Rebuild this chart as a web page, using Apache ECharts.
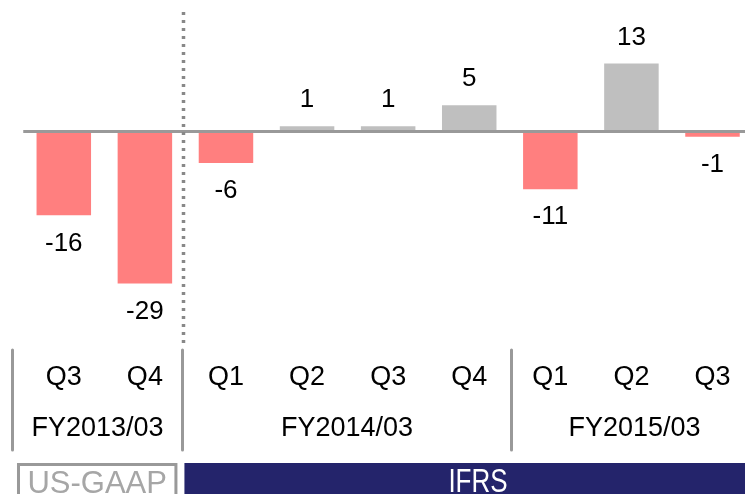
<!DOCTYPE html>
<html>
<head>
<meta charset="utf-8">
<script src="https://cdn.jsdelivr.net/npm/echarts@6/dist/echarts.min.js"></script>
<style>
  html, body { margin: 0; padding: 0; background: #fff; }
  #chart { width: 745px; height: 494px; }
</style>
</head>
<body>
<div id="chart"></div>
<script>
const categories = ['Q3', 'Q4', 'Q1', 'Q2', 'Q3', 'Q4', 'Q1', 'Q2', 'Q3'];
const values = [-16, -29, -6, 1, 1, 5, -11, 13, -1];
const fiscalYears = ['FY2013/03', 'FY2014/03', 'FY2015/03'];
const fiscalGroups = [[0, 1], [2, 5], [6, 8]];
const standards = ['US-GAAP', 'IFRS'];
const standardGroups = [[0, 1], [2, 8]];

const FONT = '"Liberation Sans", Arial, sans-serif';
const RED = '#FF7F7F';
const GRAY = '#BFBFBF';
const NAVY = '#24246B';

const chart = echarts.init(document.getElementById('chart'), null, { renderer: 'canvas' });

const barData = values.map(v => ({
  value: v,
  itemStyle: { color: v < 0 ? RED : GRAY },
  label: { position: v < 0 ? 'bottom' : 'top', distance: v < 0 ? 15 : 13 }
}));

chart.setOption({
  animation: false,
  backgroundColor: '#ffffff',
  grid: { left: 23.25, top: 26.7, width: 729.8, height: 314.4, containLabel: false, outerBoundsMode: 'none' },
  xAxis: {
    type: 'category',
    data: categories,
    axisLine: { show: false },
    axisTick: { show: false },
    splitLine: { show: false },
    axisLabel: { margin: 23, fontSize: 27, color: '#000', fontFamily: FONT }
  },
  yAxis: {
    type: 'value',
    min: -40,
    max: 20,
    show: false,
    splitLine: { show: false }
  },
  series: [{
    type: 'bar',
    data: barData,
    barWidth: 54.5,
    clip: false,
    label: { show: true, fontSize: 26, color: '#000', fontFamily: FONT, formatter: '{c}' },
    markLine: {
      silent: true,
      symbol: 'none',
      label: { show: false },
      lineStyle: { color: '#999999', width: 3, type: 'solid' },
      data: [{ yAxis: 0 }]
    }
  }]
});

function px(i) { return chart.convertToPixel({ xAxisIndex: 0 }, i); }
function boundary(i) { return (px(i) + px(i + 1)) / 2; }
function snap(x) { return Math.floor(x) + 0.5; }

const W = 745;
const graphics = [];

// Dotted divider between US-GAAP and IFRS periods
const divX = snap(boundary(1) - 1.5);
graphics.push({
  type: 'line', z: 10,
  shape: { x1: divX, y1: 12, x2: divX, y2: 344 },
  style: { stroke: '#888888', lineWidth: 3.5, lineDash: [3, 5] }
});

// Fiscal year separators
const sepXs = [snap(px(0) - 51.5), snap(boundary(1) - 2.5), snap(boundary(5) + 2)];
sepXs.forEach(x => graphics.push({
  type: 'line', z: 10,
  shape: { x1: x, y1: 350, x2: x, y2: 450 },
  style: { stroke: '#999999', lineWidth: 3, lineCap: 'round' }
}));

// Fiscal year labels
const fyBounds = [sepXs[0], sepXs[1], sepXs[2], px(8) + 45];
fiscalYears.forEach((t, k) => {
  graphics.push({
    type: 'text', z: 10,
    style: {
      text: t, x: (fyBounds[k] + fyBounds[k + 1]) / 2, y: 429,
      align: 'center', verticalAlign: 'middle',
      fontSize: 27, fontFamily: FONT, fill: '#000'
    }
  });
});

// Accounting standard boxes
const gaapL = px(standardGroups[0][0]) - 45.3;
const gaapR = boundary(standardGroups[0][1]) - 9.5;
graphics.push({
  type: 'rect', z: 10,
  shape: { x: gaapL, y: 464.5, width: gaapR - gaapL, height: 40 },
  style: { fill: '#fff', stroke: '#999999', lineWidth: 3 }
});
graphics.push({
  type: 'text', z: 11,
  style: {
    text: standards[0], x: (gaapL + gaapR) / 2, y: 484,
    align: 'center', verticalAlign: 'middle',
    fontSize: 31, fontFamily: FONT, fill: '#A6A6A6'
  }
});
const ifrsL = boundary(standardGroups[1][0] - 1) - 1;
graphics.push({
  type: 'rect', z: 10,
  shape: { x: ifrsL, y: 463, width: W + 30 - ifrsL, height: 40 },
  style: { fill: NAVY }
});
graphics.push({
  type: 'text', z: 11,
  x: 478, y: 483, scaleY: 1.3,
  style: {
    text: standards[1], x: 0, y: 0,
    align: 'center', verticalAlign: 'middle',
    fontSize: 26, fontFamily: FONT, fill: '#fff'
  }
});

chart.setOption({ graphic: graphics });
</script>
</body>
</html>
